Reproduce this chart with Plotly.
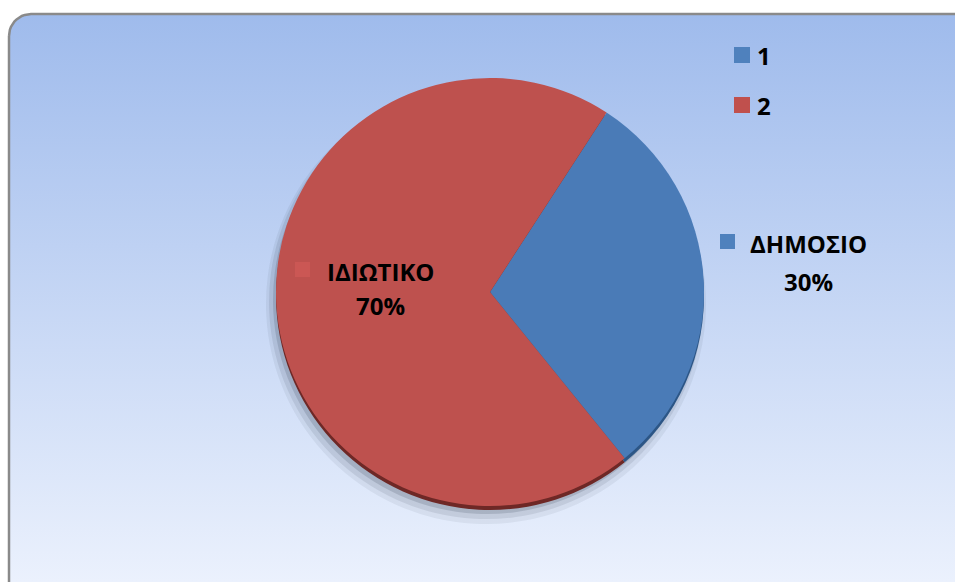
import numpy as np
import plotly.graph_objects as go

# ---- data ----
names = ["ΔΗΜΟΣΙΟ", "ΙΔΙΩΤΙΚΟ"]
legend_labels = ["1", "2"]
values = [30, 70]

# ---- styles ----
colors = ["#4A7BB7", "#BE514E"]
legend_colors = ["#4F81BD", "#C0504D"]
edge_colors = ["#2C5686", "#6E2826"]
label_square_colors = ["#4F81BD", "#CB5754"]
W, H = 955, 582
FONT = "Open Sans"
FS = 24

fig = go.Figure()

# background rounded rectangle with vertical gradient
r = 22
x0, y0, x1, y1 = 9, 14, 985, 620
pts_x, pts_y = [], []
for cx, cy, a0, a1 in [(x0 + r, y0 + r, 180, 270), (x1 - r, y0 + r, 270, 360),
                       (x1 - r, y1 - r, 0, 90), (x0 + r, y1 - r, 90, 180)]:
    t = np.radians(np.linspace(a0, a1, 12))
    pts_x += list(cx + r * np.cos(t))
    pts_y += list(cy + r * np.sin(t))
pts_x.append(pts_x[0]); pts_y.append(pts_y[0])
fig.add_trace(go.Scatter(
    x=pts_x, y=pts_y, mode="lines", fill="toself",
    line=dict(color="#8A8A8A", width=2.5),
    fillgradient=dict(type="vertical", start=y0, stop=H,
                      colorscale=[[0, "#9FBBEC"], [1, "#EBF1FD"]]),
    hoverinfo="skip", showlegend=False))

# pie geometry (pixels)
pcx, pcy, pr = 490, 292, 214

def dom(cx, cy, rad):
    return dict(x=[(cx - rad) / W, (cx + rad) / W],
                y=[1 - (cy + rad) / H, 1 - (cy - rad) / H])

common = dict(labels=legend_labels, values=values, sort=False, direction="clockwise",
              rotation=33, textinfo="none", hoverinfo="skip", showlegend=False)

# soft shadow (stacked translucent layers)
for dx, dy, dr, a in [(-4, 12, 6, 0.07), (-4, 10, 3, 0.10), (-3, 8, 0, 0.16)]:
    fig.add_trace(go.Pie(**common, domain=dom(pcx + dx, pcy + dy, pr + dr),
                         marker=dict(colors=[f"rgba(40,50,70,{a})"] * 2, line=dict(width=0))))
# 3D edge
fig.add_trace(go.Pie(**common, domain=dom(pcx, pcy + 4, pr),
                     marker=dict(colors=edge_colors, line=dict(width=0))))
# top face
fig.add_trace(go.Pie(**common, domain=dom(pcx, pcy, pr),
                     marker=dict(colors=colors, line=dict(width=0))))

shapes = []
annotations = []

# data labels
label_pos = [dict(sq=(720, 234), cx=808, ny=243, py=281),
             dict(sq=(295, 262), cx=380, ny=271, py=305)]
total = sum(values)
for i, p in enumerate(label_pos):
    sx, sy = p["sq"]
    shapes.append(dict(type="rect", xref="x", yref="y", x0=sx, x1=sx + 15, y0=sy, y1=sy + 15,
                       fillcolor=label_square_colors[i], line=dict(width=0)))
    annotations.append(dict(x=p["cx"], y=p["ny"], xref="x", yref="y", text=f"<b>{names[i]}</b>",
                            showarrow=False, xanchor="center", yanchor="middle",
                            font=dict(family=FONT, size=FS, color="black")))
    annotations.append(dict(x=p["cx"], y=p["py"], xref="x", yref="y",
                            text=f"<b>{round(values[i] * 100 / total)}%</b>",
                            showarrow=False, xanchor="center", yanchor="middle",
                            font=dict(family=FONT, size=FS, color="black")))

# legend
for i, lab in enumerate(legend_labels):
    ly = 55 + 50 * i
    shapes.append(dict(type="rect", xref="x", yref="y", x0=734, x1=750, y0=ly - 8, y1=ly + 8,
                       fillcolor=legend_colors[i], line=dict(width=0)))
    annotations.append(dict(x=755, y=ly, xref="x", yref="y", text=f"<b>{lab}</b>",
                            showarrow=False, xanchor="left", yanchor="middle",
                            font=dict(family=FONT, size=FS, color="black")))

fig.update_layout(
    width=W, height=H, margin=dict(l=0, r=0, t=0, b=0),
    paper_bgcolor="white", plot_bgcolor="rgba(0,0,0,0)",
    xaxis=dict(visible=False, range=[0, W], fixedrange=True),
    yaxis=dict(visible=False, range=[H, 0], fixedrange=True),
    showlegend=False, shapes=shapes, annotations=annotations)

fig.write_html("out.html")
